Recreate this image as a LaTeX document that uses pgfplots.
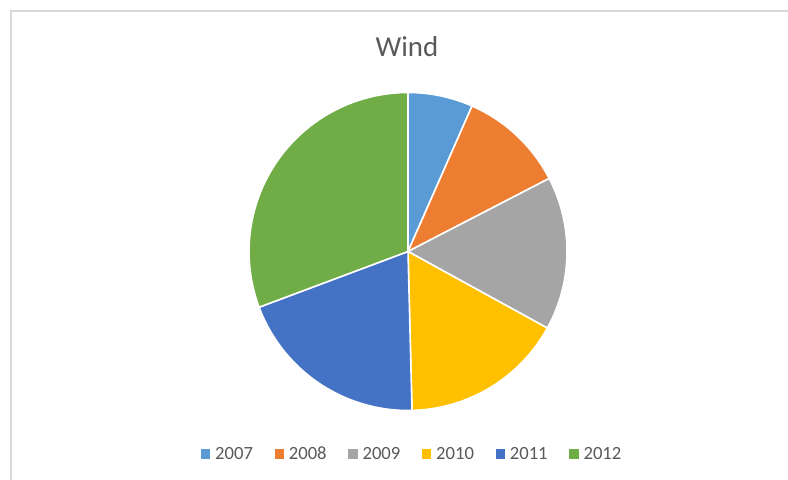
\documentclass[border=0pt]{standalone}
\usepackage{fontspec}
\setmainfont{Carlito}
\usepackage{pgfplots}
\usepackage{pgfplotstable}
\pgfplotsset{compat=1.18}

\definecolor{c2007}{HTML}{5B9BD5}
\definecolor{c2008}{HTML}{ED7D31}
\definecolor{c2009}{HTML}{A5A5A5}
\definecolor{c2010}{HTML}{FFC000}
\definecolor{c2011}{HTML}{4472C4}
\definecolor{c2012}{HTML}{70AD47}
\definecolor{txt}{HTML}{595959}
\definecolor{framegray}{HTML}{D9D9D9}

% share of each year (percent)
\pgfplotstableread{
year share
2007 6.6
2008 10.8
2009 15.6
2010 16.6
2011 19.7
2012 30.7
}\winddata

\def\getshare#1#2{\pgfplotstablegetelem{#1}{share}\of\winddata\let#2\pgfplotsretval}

\begin{document}
\begin{tikzpicture}
  \getshare{0}\sA \getshare{1}\sB \getshare{2}\sC
  \getshare{3}\sD \getshare{4}\sE \getshare{5}\sF
  \pgfmathsetmacro\tot{\sA+\sB+\sC+\sD+\sE+\sF}
  % slice boundaries, clockwise from 12 o'clock
  \pgfmathsetmacro\aA{90}
  \pgfmathsetmacro\aB{\aA-360*\sA/\tot}
  \pgfmathsetmacro\aC{\aB-360*\sB/\tot}
  \pgfmathsetmacro\aD{\aC-360*\sC/\tot}
  \pgfmathsetmacro\aE{\aD-360*\sD/\tot}
  \pgfmathsetmacro\aF{\aE-360*\sE/\tot}
  \pgfmathsetmacro\aG{\aF-360*\sF/\tot}

  \begin{axis}[
      width  = 788bp,
      height = 480bp,
      scale only axis,
      xmin = 0, xmax = 788,
      ymin = 0, ymax = 480,
      hide axis,
      clip = false,
      legend columns   = 6,
      legend cell align = left,
      legend style = {
        at = {(0.522,0.054)}, anchor = center,
        draw = none, fill = none,
        font = \fontsize{18.7}{20}\selectfont,
        text = txt,
        nodes = {inner sep=0.5bp},
        /tikz/every odd column/.append style  = {column sep=5bp},
        /tikz/every even column/.append style = {column sep=21bp},
      },
    ]

    \newcommand\slice[3]{%
      \fill[#1, draw=white, line width=1.6bp, line join=round]
        (axis cs:408,228.5) -- ++(#2:159bp)
        arc[start angle=#2, end angle=#3, radius=159bp] -- cycle;}
    \slice{c2007}{\aA}{\aB}
    \slice{c2008}{\aB}{\aC}
    \slice{c2009}{\aC}{\aD}
    \slice{c2010}{\aD}{\aE}
    \slice{c2011}{\aE}{\aF}
    \slice{c2012}{\aF}{\aG}

    % legend squares
    \addlegendimage{legend image code/.code={\fill[c2007] (0bp,-4bp) rectangle (8.5bp,4.5bp);}}
    \addlegendentry{2007}
    \addlegendimage{legend image code/.code={\fill[c2008] (0bp,-4bp) rectangle (8.5bp,4.5bp);}}
    \addlegendentry{2008}
    \addlegendimage{legend image code/.code={\fill[c2009] (0bp,-4bp) rectangle (8.5bp,4.5bp);}}
    \addlegendentry{2009}
    \addlegendimage{legend image code/.code={\fill[c2010] (0bp,-4bp) rectangle (8.5bp,4.5bp);}}
    \addlegendentry{2010}
    \addlegendimage{legend image code/.code={\fill[c2011] (0bp,-4bp) rectangle (8.5bp,4.5bp);}}
    \addlegendentry{2011}
    \addlegendimage{legend image code/.code={\fill[c2012] (0bp,-4bp) rectangle (8.5bp,4.5bp);}}
    \addlegendentry{2012}

    % title and chart-area border
    \node[font=\fontsize{29}{30}\selectfont, text=txt, anchor=base]
      at (axis cs:407,423.5) {Wind};
    \draw[framegray, line width=1.5bp]
      (axis cs:11,0) -- (axis cs:11,469) -- (axis cs:788,469);

    \coordinate (SW) at (axis cs:0,0);
    \coordinate (NE) at (axis cs:788,480);
  \end{axis}
  \pgfresetboundingbox
  \path[use as bounding box] (SW) rectangle (NE);
\end{tikzpicture}
\end{document}
